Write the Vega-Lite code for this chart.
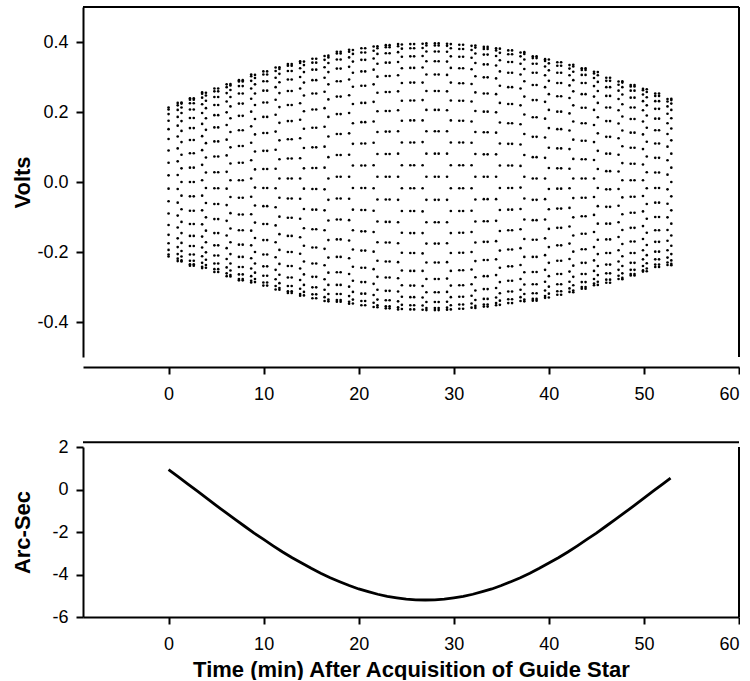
{
"$schema":"https://vega.github.io/schema/vega-lite/v6.json",
"background":"white",
"padding":{"left":11,"top":6,"right":0,"bottom":0},
"bounds":"flush",
"spacing":90,
"config":{
"view":{"stroke":null},
"font":"Liberation Sans",
"locale":{"number":{"decimal":".","thousands":",","grouping":[3],"currency":["$",""],"minus":"-"}},
"axis":{"domainColor":"black","domainWidth":2,"tickColor":"black","tickWidth":2,"tickSize":7,"labelFont":"Liberation Sans","labelFontSize":18,"labelColor":"black","titleFont":"Liberation Sans","titleFontSize":22,"titleFontWeight":"bold","titleColor":"black","grid":false}
},
"datasets":{
"arc":[{"t":0,"a":0.94},{"t":1,"a":0.61},{"t":2,"a":0.27},{"t":3,"a":-0.07},{"t":4,"a":-0.41},{"t":5,"a":-0.75},{"t":6,"a":-1.08},{"t":7,"a":-1.41},{"t":8,"a":-1.73},{"t":9,"a":-2.05},{"t":10,"a":-2.35},{"t":11,"a":-2.65},{"t":12,"a":-2.94},{"t":13,"a":-3.21},{"t":14,"a":-3.46},{"t":15,"a":-3.71},{"t":16,"a":-3.94},{"t":17,"a":-4.15},{"t":18,"a":-4.34},{"t":19,"a":-4.52},{"t":20,"a":-4.68},{"t":21,"a":-4.81},{"t":22,"a":-4.93},{"t":23,"a":-5.03},{"t":24,"a":-5.1},{"t":25,"a":-5.16},{"t":26,"a":-5.19},{"t":27,"a":-5.2},{"t":28,"a":-5.19},{"t":29,"a":-5.16},{"t":30,"a":-5.1},{"t":31,"a":-5.03},{"t":32,"a":-4.93},{"t":33,"a":-4.81},{"t":34,"a":-4.68},{"t":35,"a":-4.52},{"t":36,"a":-4.34},{"t":37,"a":-4.15},{"t":38,"a":-3.94},{"t":39,"a":-3.71},{"t":40,"a":-3.46},{"t":41,"a":-3.21},{"t":42,"a":-2.94},{"t":43,"a":-2.65},{"t":44,"a":-2.35},{"t":45,"a":-2.05},{"t":46,"a":-1.73},{"t":47,"a":-1.41},{"t":48,"a":-1.08},{"t":49,"a":-0.75},{"t":50,"a":-0.41},{"t":51,"a":-0.07},{"t":52,"a":0.27},{"t":52.8,"a":0.54}],
"dots":[
{"t":0,"v":0.213},{"t":0,"v":0.207},{"t":0,"v":0.194},{"t":0,"v":0.175},{"t":0,"v":0.151},{"t":0,"v":0.123},{"t":0,"v":0.09},{"t":0,"v":0.055},{"t":0,"v":0.019},{"t":0,"v":-0.019},{"t":0,"v":-0.055},{"t":0,"v":-0.09},{"t":0,"v":-0.123},{"t":0,"v":-0.151},{"t":0,"v":-0.175},{"t":0,"v":-0.194},{"t":0,"v":-0.207},{"t":0,"v":-0.213},
{"t":0.96,"v":0.226},{"t":0.96,"v":0.219},{"t":0.96,"v":0.206},{"t":0.96,"v":0.186},{"t":0.96,"v":0.161},{"t":0.96,"v":0.13},{"t":0.96,"v":0.096},{"t":0.96,"v":0.059},{"t":0.96,"v":0.02},{"t":0.96,"v":-0.02},{"t":0.96,"v":-0.059},{"t":0.96,"v":-0.096},{"t":0.96,"v":-0.13},{"t":0.96,"v":-0.161},{"t":0.96,"v":-0.186},{"t":0.96,"v":-0.206},{"t":0.96,"v":-0.219},{"t":0.96,"v":-0.226},
{"t":1.36,"v":0.227},{"t":1.36,"v":0.224},{"t":1.36,"v":0.213},{"t":1.36,"v":0.197},{"t":1.36,"v":0.174},{"t":1.36,"v":0.146},{"t":1.36,"v":0.114},{"t":1.36,"v":0.078},{"t":1.36,"v":0.039},{"t":1.36,"v":0},{"t":1.36,"v":-0.039},{"t":1.36,"v":-0.078},{"t":1.36,"v":-0.114},{"t":1.36,"v":-0.146},{"t":1.36,"v":-0.174},{"t":1.36,"v":-0.197},{"t":1.36,"v":-0.213},{"t":1.36,"v":-0.224},{"t":1.36,"v":-0.227},
{"t":2.25,"v":0.239},{"t":2.25,"v":0.235},{"t":2.25,"v":0.225},{"t":2.25,"v":0.207},{"t":2.25,"v":0.183},{"t":2.25,"v":0.154},{"t":2.25,"v":0.12},{"t":2.25,"v":0.082},{"t":2.25,"v":0.041},{"t":2.25,"v":0},{"t":2.25,"v":-0.041},{"t":2.25,"v":-0.082},{"t":2.25,"v":-0.12},{"t":2.25,"v":-0.154},{"t":2.25,"v":-0.183},{"t":2.25,"v":-0.207},{"t":2.25,"v":-0.225},{"t":2.25,"v":-0.235},{"t":2.25,"v":-0.239},
{"t":2.65,"v":0.239},{"t":2.65,"v":0.235},{"t":2.65,"v":0.225},{"t":2.65,"v":0.207},{"t":2.65,"v":0.183},{"t":2.65,"v":0.154},{"t":2.65,"v":0.12},{"t":2.65,"v":0.082},{"t":2.65,"v":0.041},{"t":2.65,"v":0},{"t":2.65,"v":-0.041},{"t":2.65,"v":-0.082},{"t":2.65,"v":-0.12},{"t":2.65,"v":-0.154},{"t":2.65,"v":-0.183},{"t":2.65,"v":-0.207},{"t":2.65,"v":-0.225},{"t":2.65,"v":-0.235},{"t":2.65,"v":-0.239},
{"t":3.53,"v":0.256},{"t":3.53,"v":0.252},{"t":3.53,"v":0.241},{"t":3.53,"v":0.222},{"t":3.53,"v":0.197},{"t":3.53,"v":0.166},{"t":3.53,"v":0.131},{"t":3.53,"v":0.091},{"t":3.53,"v":0.049},{"t":3.53,"v":0.005},{"t":3.53,"v":-0.039},{"t":3.53,"v":-0.081},{"t":3.53,"v":-0.121},{"t":3.53,"v":-0.156},{"t":3.53,"v":-0.187},{"t":3.53,"v":-0.212},{"t":3.53,"v":-0.231},{"t":3.53,"v":-0.242},{"t":3.53,"v":-0.246},
{"t":3.93,"v":0.255},{"t":3.93,"v":0.247},{"t":3.93,"v":0.232},{"t":3.93,"v":0.211},{"t":3.93,"v":0.182},{"t":3.93,"v":0.149},{"t":3.93,"v":0.111},{"t":3.93,"v":0.07},{"t":3.93,"v":0.027},{"t":3.93,"v":-0.017},{"t":3.93,"v":-0.06},{"t":3.93,"v":-0.101},{"t":3.93,"v":-0.139},{"t":3.93,"v":-0.172},{"t":3.93,"v":-0.201},{"t":3.93,"v":-0.222},{"t":3.93,"v":-0.237},{"t":3.93,"v":-0.245},
{"t":4.82,"v":0.267},{"t":4.82,"v":0.259},{"t":4.82,"v":0.243},{"t":4.82,"v":0.22},{"t":4.82,"v":0.191},{"t":4.82,"v":0.156},{"t":4.82,"v":0.116},{"t":4.82,"v":0.073},{"t":4.82,"v":0.028},{"t":4.82,"v":-0.018},{"t":4.82,"v":-0.063},{"t":4.82,"v":-0.106},{"t":4.82,"v":-0.146},{"t":4.82,"v":-0.181},{"t":4.82,"v":-0.21},{"t":4.82,"v":-0.233},{"t":4.82,"v":-0.249},{"t":4.82,"v":-0.257},
{"t":5.22,"v":0.267},{"t":5.22,"v":0.259},{"t":5.22,"v":0.243},{"t":5.22,"v":0.22},{"t":5.22,"v":0.191},{"t":5.22,"v":0.156},{"t":5.22,"v":0.116},{"t":5.22,"v":0.073},{"t":5.22,"v":0.028},{"t":5.22,"v":-0.018},{"t":5.22,"v":-0.063},{"t":5.22,"v":-0.106},{"t":5.22,"v":-0.146},{"t":5.22,"v":-0.181},{"t":5.22,"v":-0.21},{"t":5.22,"v":-0.233},{"t":5.22,"v":-0.249},{"t":5.22,"v":-0.257},
{"t":6.11,"v":0.279},{"t":6.11,"v":0.271},{"t":6.11,"v":0.254},{"t":6.11,"v":0.23},{"t":6.11,"v":0.199},{"t":6.11,"v":0.163},{"t":6.11,"v":0.121},{"t":6.11,"v":0.076},{"t":6.11,"v":0.029},{"t":6.11,"v":-0.019},{"t":6.11,"v":-0.066},{"t":6.11,"v":-0.111},{"t":6.11,"v":-0.153},{"t":6.11,"v":-0.189},{"t":6.11,"v":-0.22},{"t":6.11,"v":-0.244},{"t":6.11,"v":-0.261},{"t":6.11,"v":-0.269},
{"t":6.51,"v":0.28},{"t":6.51,"v":0.276},{"t":6.51,"v":0.263},{"t":6.51,"v":0.243},{"t":6.51,"v":0.216},{"t":6.51,"v":0.182},{"t":6.51,"v":0.143},{"t":6.51,"v":0.099},{"t":6.51,"v":0.053},{"t":6.51,"v":0.005},{"t":6.51,"v":-0.043},{"t":6.51,"v":-0.089},{"t":6.51,"v":-0.133},{"t":6.51,"v":-0.172},{"t":6.51,"v":-0.206},{"t":6.51,"v":-0.233},{"t":6.51,"v":-0.253},{"t":6.51,"v":-0.266},{"t":6.51,"v":-0.27},
{"t":7.4,"v":0.291},{"t":7.4,"v":0.287},{"t":7.4,"v":0.274},{"t":7.4,"v":0.253},{"t":7.4,"v":0.224},{"t":7.4,"v":0.189},{"t":7.4,"v":0.148},{"t":7.4,"v":0.103},{"t":7.4,"v":0.055},{"t":7.4,"v":0.005},{"t":7.4,"v":-0.045},{"t":7.4,"v":-0.093},{"t":7.4,"v":-0.138},{"t":7.4,"v":-0.179},{"t":7.4,"v":-0.214},{"t":7.4,"v":-0.243},{"t":7.4,"v":-0.264},{"t":7.4,"v":-0.277},{"t":7.4,"v":-0.281},
{"t":7.8,"v":0.291},{"t":7.8,"v":0.287},{"t":7.8,"v":0.274},{"t":7.8,"v":0.253},{"t":7.8,"v":0.224},{"t":7.8,"v":0.189},{"t":7.8,"v":0.148},{"t":7.8,"v":0.103},{"t":7.8,"v":0.055},{"t":7.8,"v":0.005},{"t":7.8,"v":-0.045},{"t":7.8,"v":-0.093},{"t":7.8,"v":-0.138},{"t":7.8,"v":-0.179},{"t":7.8,"v":-0.214},{"t":7.8,"v":-0.243},{"t":7.8,"v":-0.264},{"t":7.8,"v":-0.277},{"t":7.8,"v":-0.281},
{"t":8.69,"v":0.307},{"t":8.69,"v":0.302},{"t":8.69,"v":0.289},{"t":8.69,"v":0.267},{"t":8.69,"v":0.238},{"t":8.69,"v":0.201},{"t":8.69,"v":0.159},{"t":8.69,"v":0.112},{"t":8.69,"v":0.062},{"t":8.69,"v":0.01},{"t":8.69,"v":-0.042},{"t":8.69,"v":-0.092},{"t":8.69,"v":-0.139},{"t":8.69,"v":-0.181},{"t":8.69,"v":-0.218},{"t":8.69,"v":-0.247},{"t":8.69,"v":-0.269},{"t":8.69,"v":-0.282},{"t":8.69,"v":-0.287},
{"t":9.09,"v":0.306},{"t":9.09,"v":0.297},{"t":9.09,"v":0.279},{"t":9.09,"v":0.253},{"t":9.09,"v":0.22},{"t":9.09,"v":0.18},{"t":9.09,"v":0.136},{"t":9.09,"v":0.087},{"t":9.09,"v":0.036},{"t":9.09,"v":-0.016},{"t":9.09,"v":-0.067},{"t":9.09,"v":-0.116},{"t":9.09,"v":-0.16},{"t":9.09,"v":-0.2},{"t":9.09,"v":-0.233},{"t":9.09,"v":-0.259},{"t":9.09,"v":-0.277},{"t":9.09,"v":-0.286},
{"t":9.97,"v":0.316},{"t":9.97,"v":0.307},{"t":9.97,"v":0.288},{"t":9.97,"v":0.261},{"t":9.97,"v":0.227},{"t":9.97,"v":0.186},{"t":9.97,"v":0.14},{"t":9.97,"v":0.089},{"t":9.97,"v":0.037},{"t":9.97,"v":-0.017},{"t":9.97,"v":-0.069},{"t":9.97,"v":-0.12},{"t":9.97,"v":-0.166},{"t":9.97,"v":-0.207},{"t":9.97,"v":-0.241},{"t":9.97,"v":-0.268},{"t":9.97,"v":-0.287},{"t":9.97,"v":-0.296},
{"t":10.37,"v":0.316},{"t":10.37,"v":0.307},{"t":10.37,"v":0.288},{"t":10.37,"v":0.261},{"t":10.37,"v":0.227},{"t":10.37,"v":0.186},{"t":10.37,"v":0.14},{"t":10.37,"v":0.089},{"t":10.37,"v":0.037},{"t":10.37,"v":-0.017},{"t":10.37,"v":-0.069},{"t":10.37,"v":-0.12},{"t":10.37,"v":-0.166},{"t":10.37,"v":-0.207},{"t":10.37,"v":-0.241},{"t":10.37,"v":-0.268},{"t":10.37,"v":-0.287},{"t":10.37,"v":-0.296},
{"t":11.26,"v":0.327},{"t":11.26,"v":0.317},{"t":11.26,"v":0.298},{"t":11.26,"v":0.271},{"t":11.26,"v":0.235},{"t":11.26,"v":0.192},{"t":11.26,"v":0.144},{"t":11.26,"v":0.092},{"t":11.26,"v":0.038},{"t":11.26,"v":-0.018},{"t":11.26,"v":-0.072},{"t":11.26,"v":-0.124},{"t":11.26,"v":-0.172},{"t":11.26,"v":-0.215},{"t":11.26,"v":-0.251},{"t":11.26,"v":-0.278},{"t":11.26,"v":-0.297},{"t":11.26,"v":-0.307},
{"t":11.66,"v":0.328},{"t":11.66,"v":0.323},{"t":11.66,"v":0.309},{"t":11.66,"v":0.285},{"t":11.66,"v":0.254},{"t":11.66,"v":0.214},{"t":11.66,"v":0.169},{"t":11.66,"v":0.119},{"t":11.66,"v":0.065},{"t":11.66,"v":0.01},{"t":11.66,"v":-0.045},{"t":11.66,"v":-0.099},{"t":11.66,"v":-0.149},{"t":11.66,"v":-0.194},{"t":11.66,"v":-0.234},{"t":11.66,"v":-0.265},{"t":11.66,"v":-0.289},{"t":11.66,"v":-0.303},{"t":11.66,"v":-0.308},
{"t":12.55,"v":0.337},{"t":12.55,"v":0.332},{"t":12.55,"v":0.317},{"t":12.55,"v":0.293},{"t":12.55,"v":0.26},{"t":12.55,"v":0.22},{"t":12.55,"v":0.174},{"t":12.55,"v":0.122},{"t":12.55,"v":0.067},{"t":12.55,"v":0.01},{"t":12.55,"v":-0.047},{"t":12.55,"v":-0.102},{"t":12.55,"v":-0.154},{"t":12.55,"v":-0.2},{"t":12.55,"v":-0.24},{"t":12.55,"v":-0.273},{"t":12.55,"v":-0.297},{"t":12.55,"v":-0.312},{"t":12.55,"v":-0.317},
{"t":12.95,"v":0.337},{"t":12.95,"v":0.332},{"t":12.95,"v":0.317},{"t":12.95,"v":0.293},{"t":12.95,"v":0.26},{"t":12.95,"v":0.22},{"t":12.95,"v":0.174},{"t":12.95,"v":0.122},{"t":12.95,"v":0.067},{"t":12.95,"v":0.01},{"t":12.95,"v":-0.047},{"t":12.95,"v":-0.102},{"t":12.95,"v":-0.154},{"t":12.95,"v":-0.2},{"t":12.95,"v":-0.24},{"t":12.95,"v":-0.273},{"t":12.95,"v":-0.297},{"t":12.95,"v":-0.312},{"t":12.95,"v":-0.317},
{"t":13.84,"v":0.345},{"t":13.84,"v":0.34},{"t":13.84,"v":0.325},{"t":13.84,"v":0.3},{"t":13.84,"v":0.267},{"t":13.84,"v":0.225},{"t":13.84,"v":0.178},{"t":13.84,"v":0.125},{"t":13.84,"v":0.068},{"t":13.84,"v":0.01},{"t":13.84,"v":-0.048},{"t":13.84,"v":-0.105},{"t":13.84,"v":-0.158},{"t":13.84,"v":-0.205},{"t":13.84,"v":-0.247},{"t":13.84,"v":-0.28},{"t":13.84,"v":-0.305},{"t":13.84,"v":-0.32},{"t":13.84,"v":-0.325},
{"t":14.24,"v":0.344},{"t":14.24,"v":0.334},{"t":14.24,"v":0.314},{"t":14.24,"v":0.284},{"t":14.24,"v":0.247},{"t":14.24,"v":0.202},{"t":14.24,"v":0.152},{"t":14.24,"v":0.097},{"t":14.24,"v":0.039},{"t":14.24,"v":-0.019},{"t":14.24,"v":-0.077},{"t":14.24,"v":-0.132},{"t":14.24,"v":-0.182},{"t":14.24,"v":-0.227},{"t":14.24,"v":-0.264},{"t":14.24,"v":-0.294},{"t":14.24,"v":-0.314},{"t":14.24,"v":-0.324},
{"t":15.13,"v":0.352},{"t":15.13,"v":0.341},{"t":15.13,"v":0.321},{"t":15.13,"v":0.291},{"t":15.13,"v":0.253},{"t":15.13,"v":0.207},{"t":15.13,"v":0.155},{"t":15.13,"v":0.099},{"t":15.13,"v":0.04},{"t":15.13,"v":-0.02},{"t":15.13,"v":-0.079},{"t":15.13,"v":-0.135},{"t":15.13,"v":-0.187},{"t":15.13,"v":-0.233},{"t":15.13,"v":-0.271},{"t":15.13,"v":-0.301},{"t":15.13,"v":-0.321},{"t":15.13,"v":-0.332},
{"t":15.53,"v":0.352},{"t":15.53,"v":0.341},{"t":15.53,"v":0.321},{"t":15.53,"v":0.291},{"t":15.53,"v":0.253},{"t":15.53,"v":0.207},{"t":15.53,"v":0.155},{"t":15.53,"v":0.099},{"t":15.53,"v":0.04},{"t":15.53,"v":-0.02},{"t":15.53,"v":-0.079},{"t":15.53,"v":-0.135},{"t":15.53,"v":-0.187},{"t":15.53,"v":-0.233},{"t":15.53,"v":-0.271},{"t":15.53,"v":-0.301},{"t":15.53,"v":-0.321},{"t":15.53,"v":-0.332},
{"t":16.41,"v":0.36},{"t":16.41,"v":0.349},{"t":16.41,"v":0.328},{"t":16.41,"v":0.298},{"t":16.41,"v":0.258},{"t":16.41,"v":0.211},{"t":16.41,"v":0.158},{"t":16.41,"v":0.101},{"t":16.41,"v":0.041},{"t":16.41,"v":-0.021},{"t":16.41,"v":-0.081},{"t":16.41,"v":-0.138},{"t":16.41,"v":-0.191},{"t":16.41,"v":-0.238},{"t":16.41,"v":-0.278},{"t":16.41,"v":-0.308},{"t":16.41,"v":-0.329},{"t":16.41,"v":-0.34},
{"t":16.81,"v":0.361},{"t":16.81,"v":0.356},{"t":16.81,"v":0.34},{"t":16.81,"v":0.314},{"t":16.81,"v":0.279},{"t":16.81,"v":0.236},{"t":16.81,"v":0.186},{"t":16.81,"v":0.13},{"t":16.81,"v":0.071},{"t":16.81,"v":0.01},{"t":16.81,"v":-0.051},{"t":16.81,"v":-0.11},{"t":16.81,"v":-0.166},{"t":16.81,"v":-0.216},{"t":16.81,"v":-0.259},{"t":16.81,"v":-0.294},{"t":16.81,"v":-0.32},{"t":16.81,"v":-0.336},{"t":16.81,"v":-0.341},
{"t":17.7,"v":0.372},{"t":17.7,"v":0.367},{"t":17.7,"v":0.35},{"t":17.7,"v":0.324},{"t":17.7,"v":0.288},{"t":17.7,"v":0.244},{"t":17.7,"v":0.194},{"t":17.7,"v":0.137},{"t":17.7,"v":0.077},{"t":17.7,"v":0.015},{"t":17.7,"v":-0.047},{"t":17.7,"v":-0.107},{"t":17.7,"v":-0.164},{"t":17.7,"v":-0.214},{"t":17.7,"v":-0.258},{"t":17.7,"v":-0.294},{"t":17.7,"v":-0.32},{"t":17.7,"v":-0.337},{"t":17.7,"v":-0.342},
{"t":18.1,"v":0.372},{"t":18.1,"v":0.367},{"t":18.1,"v":0.35},{"t":18.1,"v":0.324},{"t":18.1,"v":0.288},{"t":18.1,"v":0.244},{"t":18.1,"v":0.194},{"t":18.1,"v":0.137},{"t":18.1,"v":0.077},{"t":18.1,"v":0.015},{"t":18.1,"v":-0.047},{"t":18.1,"v":-0.107},{"t":18.1,"v":-0.164},{"t":18.1,"v":-0.214},{"t":18.1,"v":-0.258},{"t":18.1,"v":-0.294},{"t":18.1,"v":-0.32},{"t":18.1,"v":-0.337},{"t":18.1,"v":-0.342},
{"t":18.99,"v":0.378},{"t":18.99,"v":0.372},{"t":18.99,"v":0.356},{"t":18.99,"v":0.329},{"t":18.99,"v":0.293},{"t":18.99,"v":0.248},{"t":18.99,"v":0.197},{"t":18.99,"v":0.139},{"t":18.99,"v":0.078},{"t":18.99,"v":0.015},{"t":18.99,"v":-0.048},{"t":18.99,"v":-0.109},{"t":18.99,"v":-0.167},{"t":18.99,"v":-0.218},{"t":18.99,"v":-0.263},{"t":18.99,"v":-0.299},{"t":18.99,"v":-0.326},{"t":18.99,"v":-0.342},{"t":18.99,"v":-0.348},
{"t":19.39,"v":0.377},{"t":19.39,"v":0.366},{"t":19.39,"v":0.344},{"t":19.39,"v":0.312},{"t":19.39,"v":0.272},{"t":19.39,"v":0.223},{"t":19.39,"v":0.168},{"t":19.39,"v":0.109},{"t":19.39,"v":0.047},{"t":19.39,"v":-0.017},{"t":19.39,"v":-0.079},{"t":19.39,"v":-0.138},{"t":19.39,"v":-0.193},{"t":19.39,"v":-0.242},{"t":19.39,"v":-0.282},{"t":19.39,"v":-0.314},{"t":19.39,"v":-0.336},{"t":19.39,"v":-0.347},
{"t":20.28,"v":0.382},{"t":20.28,"v":0.37},{"t":20.28,"v":0.349},{"t":20.28,"v":0.316},{"t":20.28,"v":0.275},{"t":20.28,"v":0.226},{"t":20.28,"v":0.171},{"t":20.28,"v":0.11},{"t":20.28,"v":0.047},{"t":20.28,"v":-0.017},{"t":20.28,"v":-0.08},{"t":20.28,"v":-0.141},{"t":20.28,"v":-0.196},{"t":20.28,"v":-0.245},{"t":20.28,"v":-0.286},{"t":20.28,"v":-0.319},{"t":20.28,"v":-0.34},{"t":20.28,"v":-0.352},
{"t":20.68,"v":0.382},{"t":20.68,"v":0.37},{"t":20.68,"v":0.349},{"t":20.68,"v":0.316},{"t":20.68,"v":0.275},{"t":20.68,"v":0.226},{"t":20.68,"v":0.171},{"t":20.68,"v":0.11},{"t":20.68,"v":0.047},{"t":20.68,"v":-0.017},{"t":20.68,"v":-0.08},{"t":20.68,"v":-0.141},{"t":20.68,"v":-0.196},{"t":20.68,"v":-0.245},{"t":20.68,"v":-0.286},{"t":20.68,"v":-0.319},{"t":20.68,"v":-0.34},{"t":20.68,"v":-0.352},
{"t":21.57,"v":0.387},{"t":21.57,"v":0.375},{"t":21.57,"v":0.353},{"t":21.57,"v":0.321},{"t":21.57,"v":0.279},{"t":21.57,"v":0.229},{"t":21.57,"v":0.173},{"t":21.57,"v":0.112},{"t":21.57,"v":0.048},{"t":21.57,"v":-0.018},{"t":21.57,"v":-0.082},{"t":21.57,"v":-0.143},{"t":21.57,"v":-0.199},{"t":21.57,"v":-0.249},{"t":21.57,"v":-0.291},{"t":21.57,"v":-0.323},{"t":21.57,"v":-0.345},{"t":21.57,"v":-0.357},
{"t":21.97,"v":0.388},{"t":21.97,"v":0.382},{"t":21.97,"v":0.366},{"t":21.97,"v":0.338},{"t":21.97,"v":0.301},{"t":21.97,"v":0.255},{"t":21.97,"v":0.202},{"t":21.97,"v":0.143},{"t":21.97,"v":0.08},{"t":21.97,"v":0.015},{"t":21.97,"v":-0.05},{"t":21.97,"v":-0.113},{"t":21.97,"v":-0.172},{"t":21.97,"v":-0.225},{"t":21.97,"v":-0.271},{"t":21.97,"v":-0.308},{"t":21.97,"v":-0.336},{"t":21.97,"v":-0.352},{"t":21.97,"v":-0.358},
{"t":22.85,"v":0.391},{"t":22.85,"v":0.385},{"t":22.85,"v":0.368},{"t":22.85,"v":0.341},{"t":22.85,"v":0.303},{"t":22.85,"v":0.257},{"t":22.85,"v":0.203},{"t":22.85,"v":0.144},{"t":22.85,"v":0.08},{"t":22.85,"v":0.015},{"t":22.85,"v":-0.05},{"t":22.85,"v":-0.114},{"t":22.85,"v":-0.173},{"t":22.85,"v":-0.227},{"t":22.85,"v":-0.273},{"t":22.85,"v":-0.311},{"t":22.85,"v":-0.338},{"t":22.85,"v":-0.355},{"t":22.85,"v":-0.361},
{"t":23.25,"v":0.391},{"t":23.25,"v":0.385},{"t":23.25,"v":0.368},{"t":23.25,"v":0.341},{"t":23.25,"v":0.303},{"t":23.25,"v":0.257},{"t":23.25,"v":0.203},{"t":23.25,"v":0.144},{"t":23.25,"v":0.08},{"t":23.25,"v":0.015},{"t":23.25,"v":-0.05},{"t":23.25,"v":-0.114},{"t":23.25,"v":-0.173},{"t":23.25,"v":-0.227},{"t":23.25,"v":-0.273},{"t":23.25,"v":-0.311},{"t":23.25,"v":-0.338},{"t":23.25,"v":-0.355},{"t":23.25,"v":-0.361},
{"t":24.14,"v":0.394},{"t":24.14,"v":0.388},{"t":24.14,"v":0.371},{"t":24.14,"v":0.343},{"t":24.14,"v":0.305},{"t":24.14,"v":0.259},{"t":24.14,"v":0.205},{"t":24.14,"v":0.145},{"t":24.14,"v":0.081},{"t":24.14,"v":0.015},{"t":24.14,"v":-0.051},{"t":24.14,"v":-0.115},{"t":24.14,"v":-0.175},{"t":24.14,"v":-0.229},{"t":24.14,"v":-0.275},{"t":24.14,"v":-0.313},{"t":24.14,"v":-0.341},{"t":24.14,"v":-0.358},{"t":24.14,"v":-0.364},
{"t":24.54,"v":0.393},{"t":24.54,"v":0.381},{"t":24.54,"v":0.358},{"t":24.54,"v":0.325},{"t":24.54,"v":0.283},{"t":24.54,"v":0.232},{"t":24.54,"v":0.175},{"t":24.54,"v":0.113},{"t":24.54,"v":0.048},{"t":24.54,"v":-0.018},{"t":24.54,"v":-0.083},{"t":24.54,"v":-0.145},{"t":24.54,"v":-0.202},{"t":24.54,"v":-0.253},{"t":24.54,"v":-0.295},{"t":24.54,"v":-0.328},{"t":24.54,"v":-0.351},{"t":24.54,"v":-0.363},
{"t":25.43,"v":0.394},{"t":25.43,"v":0.382},{"t":25.43,"v":0.359},{"t":25.43,"v":0.326},{"t":25.43,"v":0.284},{"t":25.43,"v":0.233},{"t":25.43,"v":0.176},{"t":25.43,"v":0.113},{"t":25.43,"v":0.048},{"t":25.43,"v":-0.018},{"t":25.43,"v":-0.083},{"t":25.43,"v":-0.146},{"t":25.43,"v":-0.203},{"t":25.43,"v":-0.254},{"t":25.43,"v":-0.296},{"t":25.43,"v":-0.329},{"t":25.43,"v":-0.352},{"t":25.43,"v":-0.364},
{"t":25.83,"v":0.394},{"t":25.83,"v":0.382},{"t":25.83,"v":0.359},{"t":25.83,"v":0.326},{"t":25.83,"v":0.284},{"t":25.83,"v":0.233},{"t":25.83,"v":0.176},{"t":25.83,"v":0.113},{"t":25.83,"v":0.048},{"t":25.83,"v":-0.018},{"t":25.83,"v":-0.083},{"t":25.83,"v":-0.146},{"t":25.83,"v":-0.203},{"t":25.83,"v":-0.254},{"t":25.83,"v":-0.296},{"t":25.83,"v":-0.329},{"t":25.83,"v":-0.352},{"t":25.83,"v":-0.364},
{"t":26.72,"v":0.395},{"t":26.72,"v":0.383},{"t":26.72,"v":0.36},{"t":26.72,"v":0.327},{"t":26.72,"v":0.284},{"t":26.72,"v":0.234},{"t":26.72,"v":0.176},{"t":26.72,"v":0.114},{"t":26.72,"v":0.048},{"t":26.72,"v":-0.018},{"t":26.72,"v":-0.084},{"t":26.72,"v":-0.146},{"t":26.72,"v":-0.204},{"t":26.72,"v":-0.254},{"t":26.72,"v":-0.297},{"t":26.72,"v":-0.33},{"t":26.72,"v":-0.353},{"t":26.72,"v":-0.365},
{"t":27.12,"v":0.396},{"t":27.12,"v":0.39},{"t":27.12,"v":0.373},{"t":27.12,"v":0.345},{"t":27.12,"v":0.307},{"t":27.12,"v":0.26},{"t":27.12,"v":0.206},{"t":27.12,"v":0.145},{"t":27.12,"v":0.081},{"t":27.12,"v":0.015},{"t":27.12,"v":-0.051},{"t":27.12,"v":-0.115},{"t":27.12,"v":-0.176},{"t":27.12,"v":-0.23},{"t":27.12,"v":-0.277},{"t":27.12,"v":-0.315},{"t":27.12,"v":-0.343},{"t":27.12,"v":-0.36},{"t":27.12,"v":-0.366},
{"t":28.01,"v":0.396},{"t":28.01,"v":0.39},{"t":28.01,"v":0.373},{"t":28.01,"v":0.345},{"t":28.01,"v":0.307},{"t":28.01,"v":0.26},{"t":28.01,"v":0.206},{"t":28.01,"v":0.145},{"t":28.01,"v":0.081},{"t":28.01,"v":0.015},{"t":28.01,"v":-0.051},{"t":28.01,"v":-0.115},{"t":28.01,"v":-0.176},{"t":28.01,"v":-0.23},{"t":28.01,"v":-0.277},{"t":28.01,"v":-0.315},{"t":28.01,"v":-0.343},{"t":28.01,"v":-0.36},{"t":28.01,"v":-0.366},
{"t":28.41,"v":0.396},{"t":28.41,"v":0.39},{"t":28.41,"v":0.373},{"t":28.41,"v":0.345},{"t":28.41,"v":0.307},{"t":28.41,"v":0.26},{"t":28.41,"v":0.206},{"t":28.41,"v":0.145},{"t":28.41,"v":0.081},{"t":28.41,"v":0.015},{"t":28.41,"v":-0.051},{"t":28.41,"v":-0.115},{"t":28.41,"v":-0.176},{"t":28.41,"v":-0.23},{"t":28.41,"v":-0.277},{"t":28.41,"v":-0.315},{"t":28.41,"v":-0.343},{"t":28.41,"v":-0.36},{"t":28.41,"v":-0.366},
{"t":29.29,"v":0.395},{"t":29.29,"v":0.389},{"t":29.29,"v":0.372},{"t":29.29,"v":0.344},{"t":29.29,"v":0.306},{"t":29.29,"v":0.259},{"t":29.29,"v":0.205},{"t":29.29,"v":0.145},{"t":29.29,"v":0.081},{"t":29.29,"v":0.015},{"t":29.29,"v":-0.051},{"t":29.29,"v":-0.115},{"t":29.29,"v":-0.175},{"t":29.29,"v":-0.229},{"t":29.29,"v":-0.276},{"t":29.29,"v":-0.314},{"t":29.29,"v":-0.342},{"t":29.29,"v":-0.359},{"t":29.29,"v":-0.365},
{"t":29.69,"v":0.394},{"t":29.69,"v":0.382},{"t":29.69,"v":0.359},{"t":29.69,"v":0.326},{"t":29.69,"v":0.284},{"t":29.69,"v":0.233},{"t":29.69,"v":0.176},{"t":29.69,"v":0.113},{"t":29.69,"v":0.048},{"t":29.69,"v":-0.018},{"t":29.69,"v":-0.083},{"t":29.69,"v":-0.146},{"t":29.69,"v":-0.203},{"t":29.69,"v":-0.254},{"t":29.69,"v":-0.296},{"t":29.69,"v":-0.329},{"t":29.69,"v":-0.352},{"t":29.69,"v":-0.364},
{"t":30.58,"v":0.392},{"t":30.58,"v":0.38},{"t":30.58,"v":0.358},{"t":30.58,"v":0.325},{"t":30.58,"v":0.282},{"t":30.58,"v":0.232},{"t":30.58,"v":0.175},{"t":30.58,"v":0.113},{"t":30.58,"v":0.048},{"t":30.58,"v":-0.018},{"t":30.58,"v":-0.083},{"t":30.58,"v":-0.145},{"t":30.58,"v":-0.202},{"t":30.58,"v":-0.252},{"t":30.58,"v":-0.295},{"t":30.58,"v":-0.328},{"t":30.58,"v":-0.35},{"t":30.58,"v":-0.362},
{"t":30.98,"v":0.392},{"t":30.98,"v":0.38},{"t":30.98,"v":0.358},{"t":30.98,"v":0.325},{"t":30.98,"v":0.282},{"t":30.98,"v":0.232},{"t":30.98,"v":0.175},{"t":30.98,"v":0.113},{"t":30.98,"v":0.048},{"t":30.98,"v":-0.018},{"t":30.98,"v":-0.083},{"t":30.98,"v":-0.145},{"t":30.98,"v":-0.202},{"t":30.98,"v":-0.252},{"t":30.98,"v":-0.295},{"t":30.98,"v":-0.328},{"t":30.98,"v":-0.35},{"t":30.98,"v":-0.362},
{"t":31.87,"v":0.389},{"t":31.87,"v":0.377},{"t":31.87,"v":0.355},{"t":31.87,"v":0.322},{"t":31.87,"v":0.28},{"t":31.87,"v":0.23},{"t":31.87,"v":0.173},{"t":31.87,"v":0.112},{"t":31.87,"v":0.048},{"t":31.87,"v":-0.018},{"t":31.87,"v":-0.082},{"t":31.87,"v":-0.143},{"t":31.87,"v":-0.2},{"t":31.87,"v":-0.25},{"t":31.87,"v":-0.292},{"t":31.87,"v":-0.325},{"t":31.87,"v":-0.347},{"t":31.87,"v":-0.359},
{"t":32.27,"v":0.39},{"t":32.27,"v":0.384},{"t":32.27,"v":0.367},{"t":32.27,"v":0.34},{"t":32.27,"v":0.302},{"t":32.27,"v":0.256},{"t":32.27,"v":0.203},{"t":32.27,"v":0.143},{"t":32.27,"v":0.08},{"t":32.27,"v":0.015},{"t":32.27,"v":-0.05},{"t":32.27,"v":-0.113},{"t":32.27,"v":-0.173},{"t":32.27,"v":-0.226},{"t":32.27,"v":-0.272},{"t":32.27,"v":-0.31},{"t":32.27,"v":-0.337},{"t":32.27,"v":-0.354},{"t":32.27,"v":-0.36},
{"t":33.16,"v":0.386},{"t":33.16,"v":0.38},{"t":33.16,"v":0.364},{"t":33.16,"v":0.336},{"t":33.16,"v":0.299},{"t":33.16,"v":0.253},{"t":33.16,"v":0.201},{"t":33.16,"v":0.142},{"t":33.16,"v":0.079},{"t":33.16,"v":0.015},{"t":33.16,"v":-0.049},{"t":33.16,"v":-0.112},{"t":33.16,"v":-0.171},{"t":33.16,"v":-0.223},{"t":33.16,"v":-0.269},{"t":33.16,"v":-0.306},{"t":33.16,"v":-0.334},{"t":33.16,"v":-0.35},{"t":33.16,"v":-0.356},
{"t":33.56,"v":0.386},{"t":33.56,"v":0.38},{"t":33.56,"v":0.364},{"t":33.56,"v":0.336},{"t":33.56,"v":0.299},{"t":33.56,"v":0.253},{"t":33.56,"v":0.201},{"t":33.56,"v":0.142},{"t":33.56,"v":0.079},{"t":33.56,"v":0.015},{"t":33.56,"v":-0.049},{"t":33.56,"v":-0.112},{"t":33.56,"v":-0.171},{"t":33.56,"v":-0.223},{"t":33.56,"v":-0.269},{"t":33.56,"v":-0.306},{"t":33.56,"v":-0.334},{"t":33.56,"v":-0.35},{"t":33.56,"v":-0.356},
{"t":34.45,"v":0.382},{"t":34.45,"v":0.376},{"t":34.45,"v":0.36},{"t":34.45,"v":0.333},{"t":34.45,"v":0.296},{"t":34.45,"v":0.251},{"t":34.45,"v":0.199},{"t":34.45,"v":0.141},{"t":34.45,"v":0.079},{"t":34.45,"v":0.015},{"t":34.45,"v":-0.049},{"t":34.45,"v":-0.111},{"t":34.45,"v":-0.169},{"t":34.45,"v":-0.221},{"t":34.45,"v":-0.266},{"t":34.45,"v":-0.303},{"t":34.45,"v":-0.33},{"t":34.45,"v":-0.346},{"t":34.45,"v":-0.352},
{"t":34.85,"v":0.381},{"t":34.85,"v":0.369},{"t":34.85,"v":0.348},{"t":34.85,"v":0.316},{"t":34.85,"v":0.275},{"t":34.85,"v":0.226},{"t":34.85,"v":0.17},{"t":34.85,"v":0.11},{"t":34.85,"v":0.047},{"t":34.85,"v":-0.017},{"t":34.85,"v":-0.08},{"t":34.85,"v":-0.14},{"t":34.85,"v":-0.196},{"t":34.85,"v":-0.245},{"t":34.85,"v":-0.286},{"t":34.85,"v":-0.318},{"t":34.85,"v":-0.339},{"t":34.85,"v":-0.351},
{"t":35.73,"v":0.376},{"t":35.73,"v":0.365},{"t":35.73,"v":0.343},{"t":35.73,"v":0.312},{"t":35.73,"v":0.271},{"t":35.73,"v":0.223},{"t":35.73,"v":0.168},{"t":35.73,"v":0.109},{"t":35.73,"v":0.047},{"t":35.73,"v":-0.017},{"t":35.73,"v":-0.079},{"t":35.73,"v":-0.138},{"t":35.73,"v":-0.193},{"t":35.73,"v":-0.241},{"t":35.73,"v":-0.282},{"t":35.73,"v":-0.313},{"t":35.73,"v":-0.335},{"t":35.73,"v":-0.346},
{"t":36.13,"v":0.376},{"t":36.13,"v":0.365},{"t":36.13,"v":0.343},{"t":36.13,"v":0.312},{"t":36.13,"v":0.271},{"t":36.13,"v":0.223},{"t":36.13,"v":0.168},{"t":36.13,"v":0.109},{"t":36.13,"v":0.047},{"t":36.13,"v":-0.017},{"t":36.13,"v":-0.079},{"t":36.13,"v":-0.138},{"t":36.13,"v":-0.193},{"t":36.13,"v":-0.241},{"t":36.13,"v":-0.282},{"t":36.13,"v":-0.313},{"t":36.13,"v":-0.335},{"t":36.13,"v":-0.346},
{"t":37.02,"v":0.37},{"t":37.02,"v":0.359},{"t":37.02,"v":0.338},{"t":37.02,"v":0.307},{"t":37.02,"v":0.267},{"t":37.02,"v":0.219},{"t":37.02,"v":0.165},{"t":37.02,"v":0.107},{"t":37.02,"v":0.046},{"t":37.02,"v":-0.016},{"t":37.02,"v":-0.077},{"t":37.02,"v":-0.135},{"t":37.02,"v":-0.189},{"t":37.02,"v":-0.237},{"t":37.02,"v":-0.277},{"t":37.02,"v":-0.308},{"t":37.02,"v":-0.329},{"t":37.02,"v":-0.34},
{"t":37.42,"v":0.371},{"t":37.42,"v":0.366},{"t":37.42,"v":0.35},{"t":37.42,"v":0.323},{"t":37.42,"v":0.288},{"t":37.42,"v":0.244},{"t":37.42,"v":0.193},{"t":37.42,"v":0.137},{"t":37.42,"v":0.077},{"t":37.42,"v":0.015},{"t":37.42,"v":-0.047},{"t":37.42,"v":-0.107},{"t":37.42,"v":-0.163},{"t":37.42,"v":-0.214},{"t":37.42,"v":-0.258},{"t":37.42,"v":-0.293},{"t":37.42,"v":-0.32},{"t":37.42,"v":-0.336},{"t":37.42,"v":-0.341},
{"t":38.31,"v":0.359},{"t":38.31,"v":0.354},{"t":38.31,"v":0.338},{"t":38.31,"v":0.312},{"t":38.31,"v":0.277},{"t":38.31,"v":0.234},{"t":38.31,"v":0.185},{"t":38.31,"v":0.129},{"t":38.31,"v":0.071},{"t":38.31,"v":0.01},{"t":38.31,"v":-0.051},{"t":38.31,"v":-0.109},{"t":38.31,"v":-0.165},{"t":38.31,"v":-0.214},{"t":38.31,"v":-0.257},{"t":38.31,"v":-0.292},{"t":38.31,"v":-0.318},{"t":38.31,"v":-0.334},{"t":38.31,"v":-0.339},
{"t":38.71,"v":0.359},{"t":38.71,"v":0.354},{"t":38.71,"v":0.338},{"t":38.71,"v":0.312},{"t":38.71,"v":0.277},{"t":38.71,"v":0.234},{"t":38.71,"v":0.185},{"t":38.71,"v":0.129},{"t":38.71,"v":0.071},{"t":38.71,"v":0.01},{"t":38.71,"v":-0.051},{"t":38.71,"v":-0.109},{"t":38.71,"v":-0.165},{"t":38.71,"v":-0.214},{"t":38.71,"v":-0.257},{"t":38.71,"v":-0.292},{"t":38.71,"v":-0.318},{"t":38.71,"v":-0.334},{"t":38.71,"v":-0.339},
{"t":39.6,"v":0.351},{"t":39.6,"v":0.346},{"t":39.6,"v":0.33},{"t":39.6,"v":0.305},{"t":39.6,"v":0.271},{"t":39.6,"v":0.229},{"t":39.6,"v":0.181},{"t":39.6,"v":0.127},{"t":39.6,"v":0.069},{"t":39.6,"v":0.01},{"t":39.6,"v":-0.049},{"t":39.6,"v":-0.107},{"t":39.6,"v":-0.161},{"t":39.6,"v":-0.209},{"t":39.6,"v":-0.251},{"t":39.6,"v":-0.285},{"t":39.6,"v":-0.31},{"t":39.6,"v":-0.326},{"t":39.6,"v":-0.331},
{"t":40,"v":0.35},{"t":40,"v":0.339},{"t":40,"v":0.319},{"t":40,"v":0.289},{"t":40,"v":0.251},{"t":40,"v":0.206},{"t":40,"v":0.154},{"t":40,"v":0.098},{"t":40,"v":0.04},{"t":40,"v":-0.02},{"t":40,"v":-0.078},{"t":40,"v":-0.134},{"t":40,"v":-0.186},{"t":40,"v":-0.231},{"t":40,"v":-0.269},{"t":40,"v":-0.299},{"t":40,"v":-0.319},{"t":40,"v":-0.33},
{"t":40.89,"v":0.342},{"t":40.89,"v":0.332},{"t":40.89,"v":0.312},{"t":40.89,"v":0.283},{"t":40.89,"v":0.245},{"t":40.89,"v":0.201},{"t":40.89,"v":0.151},{"t":40.89,"v":0.096},{"t":40.89,"v":0.039},{"t":40.89,"v":-0.019},{"t":40.89,"v":-0.076},{"t":40.89,"v":-0.131},{"t":40.89,"v":-0.181},{"t":40.89,"v":-0.225},{"t":40.89,"v":-0.263},{"t":40.89,"v":-0.292},{"t":40.89,"v":-0.312},{"t":40.89,"v":-0.322},
{"t":41.29,"v":0.342},{"t":41.29,"v":0.332},{"t":41.29,"v":0.312},{"t":41.29,"v":0.283},{"t":41.29,"v":0.245},{"t":41.29,"v":0.201},{"t":41.29,"v":0.151},{"t":41.29,"v":0.096},{"t":41.29,"v":0.039},{"t":41.29,"v":-0.019},{"t":41.29,"v":-0.076},{"t":41.29,"v":-0.131},{"t":41.29,"v":-0.181},{"t":41.29,"v":-0.225},{"t":41.29,"v":-0.263},{"t":41.29,"v":-0.292},{"t":41.29,"v":-0.312},{"t":41.29,"v":-0.322},
{"t":42.17,"v":0.334},{"t":42.17,"v":0.324},{"t":42.17,"v":0.305},{"t":42.17,"v":0.276},{"t":42.17,"v":0.24},{"t":42.17,"v":0.196},{"t":42.17,"v":0.147},{"t":42.17,"v":0.094},{"t":42.17,"v":0.038},{"t":42.17,"v":-0.018},{"t":42.17,"v":-0.074},{"t":42.17,"v":-0.127},{"t":42.17,"v":-0.176},{"t":42.17,"v":-0.22},{"t":42.17,"v":-0.256},{"t":42.17,"v":-0.285},{"t":42.17,"v":-0.304},{"t":42.17,"v":-0.314},
{"t":42.57,"v":0.335},{"t":42.57,"v":0.33},{"t":42.57,"v":0.315},{"t":42.57,"v":0.291},{"t":42.57,"v":0.259},{"t":42.57,"v":0.219},{"t":42.57,"v":0.173},{"t":42.57,"v":0.121},{"t":42.57,"v":0.066},{"t":42.57,"v":0.01},{"t":42.57,"v":-0.046},{"t":42.57,"v":-0.101},{"t":42.57,"v":-0.153},{"t":42.57,"v":-0.199},{"t":42.57,"v":-0.239},{"t":42.57,"v":-0.271},{"t":42.57,"v":-0.295},{"t":42.57,"v":-0.31},{"t":42.57,"v":-0.315},
{"t":43.46,"v":0.325},{"t":43.46,"v":0.32},{"t":43.46,"v":0.306},{"t":43.46,"v":0.283},{"t":43.46,"v":0.251},{"t":43.46,"v":0.212},{"t":43.46,"v":0.168},{"t":43.46,"v":0.118},{"t":43.46,"v":0.065},{"t":43.46,"v":0.01},{"t":43.46,"v":-0.045},{"t":43.46,"v":-0.098},{"t":43.46,"v":-0.148},{"t":43.46,"v":-0.192},{"t":43.46,"v":-0.231},{"t":43.46,"v":-0.263},{"t":43.46,"v":-0.286},{"t":43.46,"v":-0.3},{"t":43.46,"v":-0.305},
{"t":43.86,"v":0.325},{"t":43.86,"v":0.32},{"t":43.86,"v":0.306},{"t":43.86,"v":0.283},{"t":43.86,"v":0.251},{"t":43.86,"v":0.212},{"t":43.86,"v":0.168},{"t":43.86,"v":0.118},{"t":43.86,"v":0.065},{"t":43.86,"v":0.01},{"t":43.86,"v":-0.045},{"t":43.86,"v":-0.098},{"t":43.86,"v":-0.148},{"t":43.86,"v":-0.192},{"t":43.86,"v":-0.231},{"t":43.86,"v":-0.263},{"t":43.86,"v":-0.286},{"t":43.86,"v":-0.3},{"t":43.86,"v":-0.305},
{"t":44.75,"v":0.315},{"t":44.75,"v":0.31},{"t":44.75,"v":0.297},{"t":44.75,"v":0.274},{"t":44.75,"v":0.244},{"t":44.75,"v":0.206},{"t":44.75,"v":0.163},{"t":44.75,"v":0.114},{"t":44.75,"v":0.063},{"t":44.75,"v":0.01},{"t":44.75,"v":-0.043},{"t":44.75,"v":-0.094},{"t":44.75,"v":-0.143},{"t":44.75,"v":-0.186},{"t":44.75,"v":-0.224},{"t":44.75,"v":-0.254},{"t":44.75,"v":-0.277},{"t":44.75,"v":-0.29},{"t":44.75,"v":-0.295},
{"t":45.15,"v":0.314},{"t":45.15,"v":0.305},{"t":45.15,"v":0.286},{"t":45.15,"v":0.26},{"t":45.15,"v":0.226},{"t":45.15,"v":0.185},{"t":45.15,"v":0.139},{"t":45.15,"v":0.089},{"t":45.15,"v":0.037},{"t":45.15,"v":-0.017},{"t":45.15,"v":-0.069},{"t":45.15,"v":-0.119},{"t":45.15,"v":-0.165},{"t":45.15,"v":-0.206},{"t":45.15,"v":-0.24},{"t":45.15,"v":-0.266},{"t":45.15,"v":-0.285},{"t":45.15,"v":-0.294},
{"t":46.04,"v":0.298},{"t":46.04,"v":0.289},{"t":46.04,"v":0.271},{"t":46.04,"v":0.246},{"t":46.04,"v":0.213},{"t":46.04,"v":0.174},{"t":46.04,"v":0.129},{"t":46.04,"v":0.081},{"t":46.04,"v":0.031},{"t":46.04,"v":-0.021},{"t":46.04,"v":-0.071},{"t":46.04,"v":-0.119},{"t":46.04,"v":-0.164},{"t":46.04,"v":-0.203},{"t":46.04,"v":-0.236},{"t":46.04,"v":-0.261},{"t":46.04,"v":-0.279},{"t":46.04,"v":-0.288},
{"t":46.44,"v":0.298},{"t":46.44,"v":0.289},{"t":46.44,"v":0.271},{"t":46.44,"v":0.246},{"t":46.44,"v":0.213},{"t":46.44,"v":0.174},{"t":46.44,"v":0.129},{"t":46.44,"v":0.081},{"t":46.44,"v":0.031},{"t":46.44,"v":-0.021},{"t":46.44,"v":-0.071},{"t":46.44,"v":-0.119},{"t":46.44,"v":-0.164},{"t":46.44,"v":-0.203},{"t":46.44,"v":-0.236},{"t":46.44,"v":-0.261},{"t":46.44,"v":-0.279},{"t":46.44,"v":-0.288},
{"t":47.33,"v":0.287},{"t":47.33,"v":0.278},{"t":47.33,"v":0.261},{"t":47.33,"v":0.237},{"t":47.33,"v":0.205},{"t":47.33,"v":0.167},{"t":47.33,"v":0.125},{"t":47.33,"v":0.078},{"t":47.33,"v":0.03},{"t":47.33,"v":-0.02},{"t":47.33,"v":-0.068},{"t":47.33,"v":-0.115},{"t":47.33,"v":-0.157},{"t":47.33,"v":-0.195},{"t":47.33,"v":-0.227},{"t":47.33,"v":-0.251},{"t":47.33,"v":-0.268},{"t":47.33,"v":-0.277},
{"t":47.73,"v":0.288},{"t":47.73,"v":0.284},{"t":47.73,"v":0.271},{"t":47.73,"v":0.25},{"t":47.73,"v":0.222},{"t":47.73,"v":0.187},{"t":47.73,"v":0.147},{"t":47.73,"v":0.102},{"t":47.73,"v":0.054},{"t":47.73,"v":0.005},{"t":47.73,"v":-0.044},{"t":47.73,"v":-0.092},{"t":47.73,"v":-0.137},{"t":47.73,"v":-0.177},{"t":47.73,"v":-0.212},{"t":47.73,"v":-0.24},{"t":47.73,"v":-0.261},{"t":47.73,"v":-0.274},{"t":47.73,"v":-0.278},
{"t":48.61,"v":0.277},{"t":48.61,"v":0.273},{"t":48.61,"v":0.261},{"t":48.61,"v":0.241},{"t":48.61,"v":0.213},{"t":48.61,"v":0.18},{"t":48.61,"v":0.141},{"t":48.61,"v":0.098},{"t":48.61,"v":0.052},{"t":48.61,"v":0.005},{"t":48.61,"v":-0.042},{"t":48.61,"v":-0.088},{"t":48.61,"v":-0.131},{"t":48.61,"v":-0.17},{"t":48.61,"v":-0.203},{"t":48.61,"v":-0.231},{"t":48.61,"v":-0.251},{"t":48.61,"v":-0.263},{"t":48.61,"v":-0.267},
{"t":49.01,"v":0.277},{"t":49.01,"v":0.273},{"t":49.01,"v":0.261},{"t":49.01,"v":0.241},{"t":49.01,"v":0.213},{"t":49.01,"v":0.18},{"t":49.01,"v":0.141},{"t":49.01,"v":0.098},{"t":49.01,"v":0.052},{"t":49.01,"v":0.005},{"t":49.01,"v":-0.042},{"t":49.01,"v":-0.088},{"t":49.01,"v":-0.131},{"t":49.01,"v":-0.17},{"t":49.01,"v":-0.203},{"t":49.01,"v":-0.231},{"t":49.01,"v":-0.251},{"t":49.01,"v":-0.263},{"t":49.01,"v":-0.267},
{"t":49.9,"v":0.266},{"t":49.9,"v":0.262},{"t":49.9,"v":0.25},{"t":49.9,"v":0.231},{"t":49.9,"v":0.205},{"t":49.9,"v":0.173},{"t":49.9,"v":0.136},{"t":49.9,"v":0.094},{"t":49.9,"v":0.05},{"t":49.9,"v":0.005},{"t":49.9,"v":-0.04},{"t":49.9,"v":-0.084},{"t":49.9,"v":-0.126},{"t":49.9,"v":-0.163},{"t":49.9,"v":-0.195},{"t":49.9,"v":-0.221},{"t":49.9,"v":-0.24},{"t":49.9,"v":-0.252},{"t":49.9,"v":-0.256},
{"t":50.3,"v":0.265},{"t":50.3,"v":0.257},{"t":50.3,"v":0.242},{"t":50.3,"v":0.219},{"t":50.3,"v":0.19},{"t":50.3,"v":0.155},{"t":50.3,"v":0.115},{"t":50.3,"v":0.073},{"t":50.3,"v":0.028},{"t":50.3,"v":-0.018},{"t":50.3,"v":-0.063},{"t":50.3,"v":-0.105},{"t":50.3,"v":-0.145},{"t":50.3,"v":-0.18},{"t":50.3,"v":-0.209},{"t":50.3,"v":-0.232},{"t":50.3,"v":-0.247},{"t":50.3,"v":-0.255},
{"t":51.19,"v":0.253},{"t":51.19,"v":0.246},{"t":51.19,"v":0.231},{"t":51.19,"v":0.209},{"t":51.19,"v":0.181},{"t":51.19,"v":0.148},{"t":51.19,"v":0.11},{"t":51.19,"v":0.069},{"t":51.19,"v":0.027},{"t":51.19,"v":-0.017},{"t":51.19,"v":-0.059},{"t":51.19,"v":-0.1},{"t":51.19,"v":-0.138},{"t":51.19,"v":-0.171},{"t":51.19,"v":-0.199},{"t":51.19,"v":-0.221},{"t":51.19,"v":-0.236},{"t":51.19,"v":-0.243},
{"t":51.59,"v":0.253},{"t":51.59,"v":0.246},{"t":51.59,"v":0.231},{"t":51.59,"v":0.209},{"t":51.59,"v":0.181},{"t":51.59,"v":0.148},{"t":51.59,"v":0.11},{"t":51.59,"v":0.069},{"t":51.59,"v":0.027},{"t":51.59,"v":-0.017},{"t":51.59,"v":-0.059},{"t":51.59,"v":-0.1},{"t":51.59,"v":-0.138},{"t":51.59,"v":-0.171},{"t":51.59,"v":-0.199},{"t":51.59,"v":-0.221},{"t":51.59,"v":-0.236},{"t":51.59,"v":-0.243},
{"t":52.48,"v":0.237},{"t":52.48,"v":0.23},{"t":52.48,"v":0.216},{"t":52.48,"v":0.195},{"t":52.48,"v":0.168},{"t":52.48,"v":0.137},{"t":52.48,"v":0.101},{"t":52.48,"v":0.062},{"t":52.48,"v":0.021},{"t":52.48,"v":-0.021},{"t":52.48,"v":-0.062},{"t":52.48,"v":-0.101},{"t":52.48,"v":-0.137},{"t":52.48,"v":-0.168},{"t":52.48,"v":-0.195},{"t":52.48,"v":-0.216},{"t":52.48,"v":-0.23},{"t":52.48,"v":-0.237},
{"t":52.88,"v":0.238},{"t":52.88,"v":0.234},{"t":52.88,"v":0.224},{"t":52.88,"v":0.206},{"t":52.88,"v":0.182},{"t":52.88,"v":0.153},{"t":52.88,"v":0.119},{"t":52.88,"v":0.081},{"t":52.88,"v":0.041},{"t":52.88,"v":0},{"t":52.88,"v":-0.041},{"t":52.88,"v":-0.081},{"t":52.88,"v":-0.119},{"t":52.88,"v":-0.153},{"t":52.88,"v":-0.182},{"t":52.88,"v":-0.206},{"t":52.88,"v":-0.224},{"t":52.88,"v":-0.234},{"t":52.88,"v":-0.238}
]
},
"vconcat":[
{"width":656,"height":350,
"layer":[
{"data":{"name":"dots"},"mark":{"type":"circle","size":7,"color":"black","opacity":1},
"encoding":{
"x":{"field":"t","type":"quantitative","scale":{"domain":[-9,60],"nice":false,"zero":false},"axis":{"values":[0,10,20,30,40,50,60],"offset":10,"title":null,"labelPadding":11}},
"y":{"field":"v","type":"quantitative","scale":{"domain":[-0.5,0.5],"nice":false},"axis":{"values":[-0.4,-0.2,0,0.2,0.4],"format":".1f","title":"Volts","labelPadding":8,"titleX":-54,"titleBaseline":"alphabetic"}}}},
{"data":{"values":[{}]},"mark":{"type":"rule","color":"black","strokeWidth":2},"encoding":{"y":{"datum":0.5,"type":"quantitative"}}},
{"data":{"values":[{}]},"mark":{"type":"rule","color":"black","strokeWidth":2},"encoding":{"x":{"datum":60,"type":"quantitative"}}}
]},
{"width":656,"height":170,
"layer":[
{"data":{"name":"arc"},"mark":{"type":"line","color":"black","strokeWidth":2.8},
"encoding":{
"x":{"field":"t","type":"quantitative","scale":{"domain":[-9,60],"nice":false,"zero":false},"axis":{"values":[0,10,20,30,40,50,60],"title":"Time (min) After Acquisition of Guide Star","labelPadding":11,"titleY":59,"titleBaseline":"alphabetic"}},
"y":{"field":"a","type":"quantitative","scale":{"domain":[-6,2],"nice":false},"axis":{"values":[-6,-4,-2,0,2],"title":"Arc-Sec","labelPadding":8,"titleX":-54,"titleBaseline":"alphabetic"}}}},
{"data":{"values":[{}]},"mark":{"type":"rule","color":"black","strokeWidth":2},"encoding":{"y":{"datum":2.22,"type":"quantitative"}}},
{"data":{"values":[{}]},"mark":{"type":"rule","color":"black","strokeWidth":2},"encoding":{"x":{"datum":60,"type":"quantitative"}}}
]}
]
}
